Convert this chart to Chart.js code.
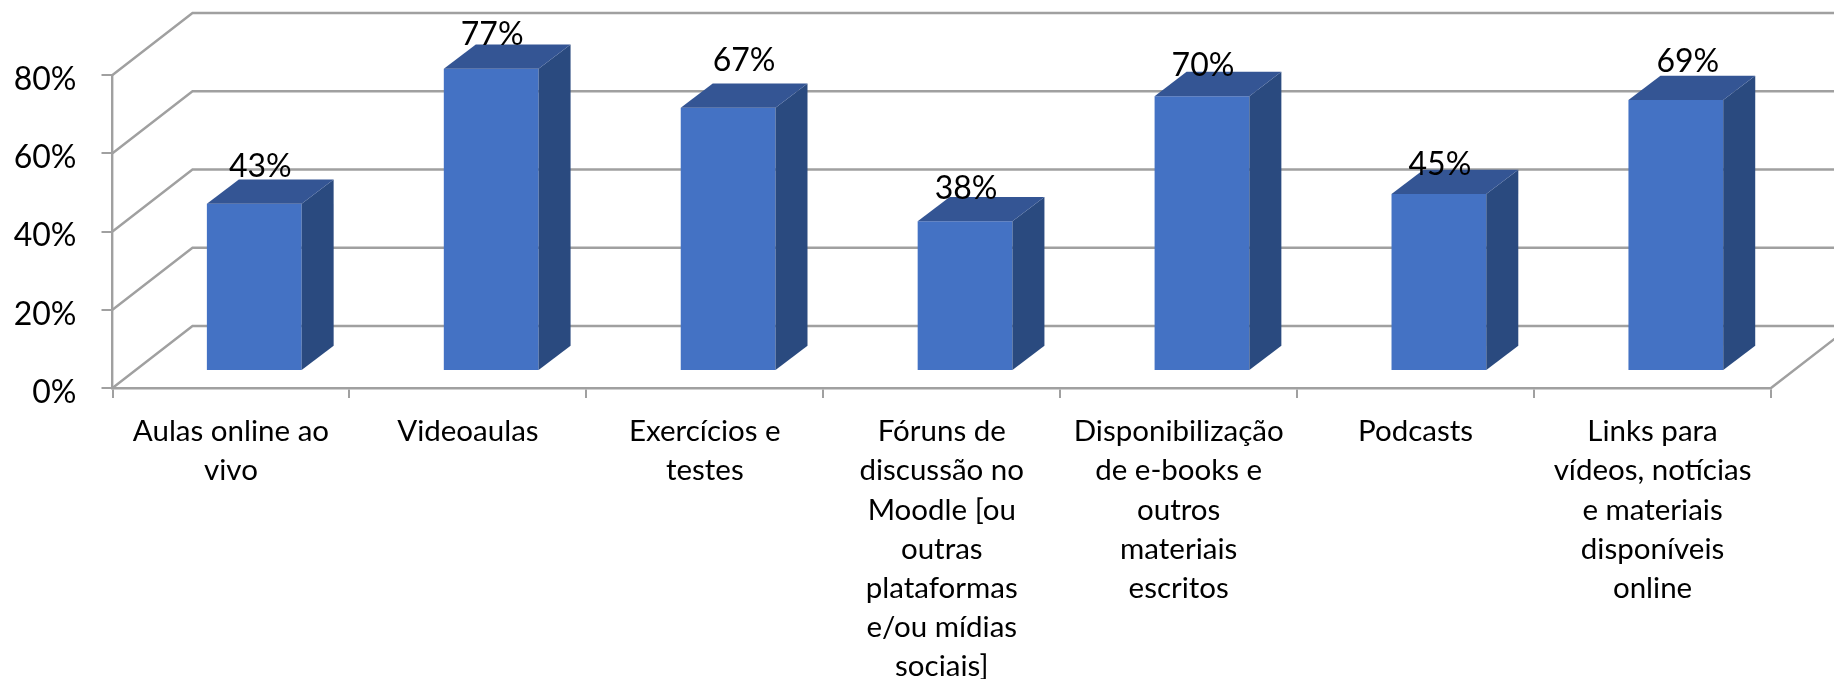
<!DOCTYPE html>
<html lang="pt">
<head>
<meta charset="utf-8">
<style>
html,body{margin:0;padding:0;background:#fff;overflow:hidden}
canvas{display:block}
</style>
<script src="https://cdn.jsdelivr.net/npm/chart.js@4"></script>
</head>
<body>
<canvas id="c" width="1834" height="679"></canvas>
<script>
const categories = [
  ["Aulas online ao","vivo"],
  ["Videoaulas"],
  ["Exercícios e","testes"],
  ["Fóruns de","discussão no","Moodle [ou","outras","plataformas","e/ou mídias","sociais]"],
  ["Disponibilização","de e-books e","outros","materiais","escritos"],
  ["Podcasts"],
  ["Links para","vídeos, notícias","e materiais","disponíveis","online"]
];
const values = [42.5, 77, 67, 38, 70, 45, 69];
const labelNudgeX = [6, 1, 16, 1, 1, 1, 12];
const labelNudgeY = [0, 3, -11, 4, 6, 7, -2];

const FONT = "Lato, 'Open Sans', sans-serif";
const LINE = '#a0a0a0', FRONT = '#4472c4', TOP = '#345594', SIDE = '#2a4a7f';
const DEPTH_X = 80, DEPTH_Y = 62;       // wall depth
const BAR_DX = 32, BAR_DY = 24.3;       // bar depth
const SHIFT_X = 23.3;                   // bars stand forward of the wall
const SHIFT_VALUE = 4.6;                // floor offset, in axis units

const walls = {
  id: 'walls',
  afterLayout(chart) {
    const s = chart.scales.x2;
    s.left += SHIFT_X; s.right += SHIFT_X;
    s.configure();
  },
  beforeDatasetsDraw(chart) {
    const { ctx, scales: { x, y } } = chart;
    ctx.save();
    ctx.strokeStyle = LINE;
    ctx.lineWidth = 2.4;
    ctx.beginPath();
    y.ticks.forEach(t => {
      const py = y.getPixelForValue(t.value);
      ctx.moveTo(x.left, py);
      ctx.lineTo(x.left + DEPTH_X, py - DEPTH_Y);
      ctx.lineTo(chart.width + 40, py - DEPTH_Y);
    });
    const fy = y.getPixelForValue(0);
    ctx.moveTo(x.right, fy);
    ctx.lineTo(x.right + DEPTH_X, fy - DEPTH_Y);
    ctx.stroke();
    ctx.restore();
  },
  afterDatasetsDraw(chart) {
    const { ctx } = chart;
    const bars = chart.getDatasetMeta(0).data;
    ctx.save();
    bars.forEach(b => {
      const l = b.x - b.width / 2, r = b.x + b.width / 2;
      ctx.fillStyle = SIDE;
      ctx.beginPath();
      ctx.moveTo(r, b.y); ctx.lineTo(r + BAR_DX, b.y - BAR_DY);
      ctx.lineTo(r + BAR_DX, b.base - BAR_DY); ctx.lineTo(r, b.base);
      ctx.closePath(); ctx.fill();
      ctx.fillStyle = TOP;
      ctx.beginPath();
      ctx.moveTo(l, b.y); ctx.lineTo(l + BAR_DX, b.y - BAR_DY);
      ctx.lineTo(r + BAR_DX, b.y - BAR_DY); ctx.lineTo(r, b.y);
      ctx.closePath(); ctx.fill();
    });
    ctx.fillStyle = '#000';
    ctx.font = '32px ' + FONT;
    ctx.textAlign = 'center';
    ctx.textBaseline = 'alphabetic';
    bars.forEach((b, i) => {
      ctx.fillText(Math.round(values[i]) + '%', b.x + labelNudgeX[i], b.y - BAR_DY - 2 + labelNudgeY[i]);
    });
    ctx.restore();
  }
};

new Chart(document.getElementById('c'), {
  type: 'bar',
  data: {
    labels: categories,
    datasets: [{
      data: values,
      xAxisID: 'x2',
      yAxisID: 'y2',
      backgroundColor: FRONT,
      borderWidth: 0,
      categoryPercentage: 0.4,
      barPercentage: 1,
      clip: false
    }]
  },
  plugins: [walls],
  options: {
    responsive: false,
    animation: false,
    events: [],
    layout: { padding: { top: 75, right: 63, left: 0, bottom: 0 } },
    plugins: { legend: { display: false }, tooltip: { enabled: false } },
    scales: {
      x: {
        type: 'category',
        position: 'bottom',
        afterFit(s) { s.height = 291; },
        grid: { drawOnChartArea: false, color: LINE, lineWidth: 2, tickLength: 10, offset: true },
        border: { color: LINE, width: 2.4 },
        ticks: {
          autoSkip: false, maxRotation: 0, minRotation: 0, padding: 14,
          color: '#000',
          font: { family: FONT, size: 29.5, lineHeight: '39.2px' }
        }
      },
      y: {
        type: 'linear',
        position: 'left',
        min: 0, max: 80,
        afterFit(s) { s.width = 112.5; },
        grid: { drawOnChartArea: false, color: LINE, lineWidth: 2, tickLength: 11 },
        border: { color: LINE, width: 2.4 },
        ticks: {
          stepSize: 20, padding: 25, labelOffset: 4.5, color: '#000',
          callback: v => v + '%',
          font: { family: FONT, size: 32 }
        }
      },
      x2: { type: 'category', position: 'bottom', display: false, grid: { display: false } },
      y2: {
        type: 'linear', position: 'left', display: false,
        min: -SHIFT_VALUE, max: 80 - SHIFT_VALUE,
        grid: { display: false }
      }
    }
  }
});
</script>
</body>
</html>
